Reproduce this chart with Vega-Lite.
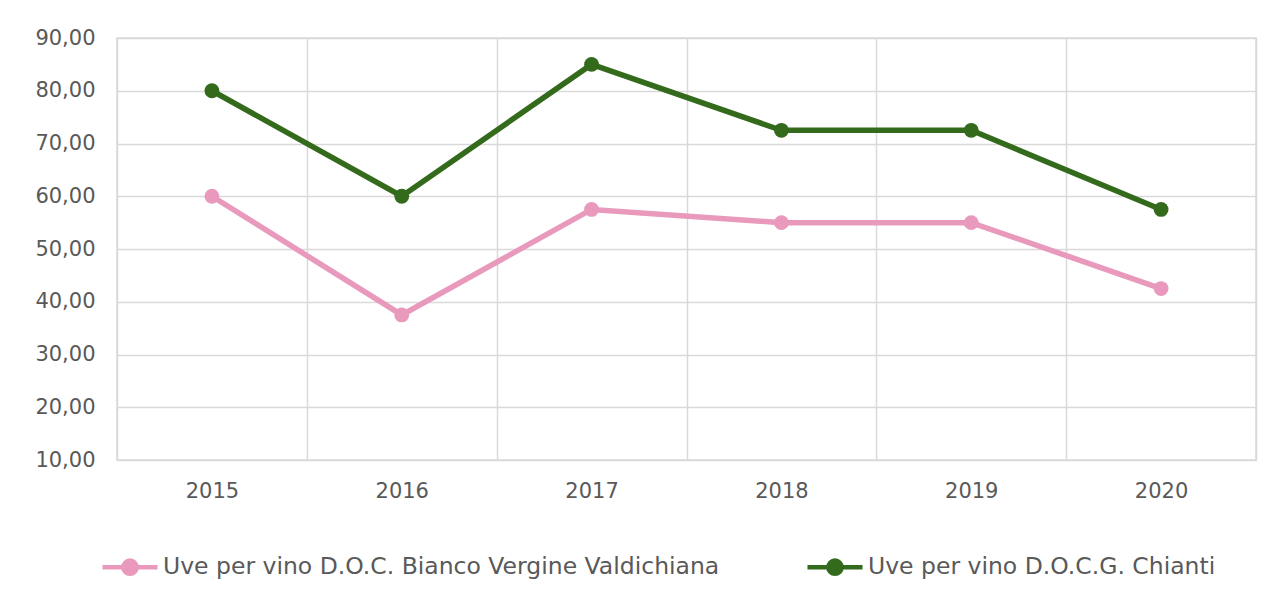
{
  "$schema": "https://vega.github.io/schema/vega-lite/v6.json",
  "width": 1139,
  "height": 422,
  "autosize": {"type": "none"},
  "padding": {"left": 117, "top": 38, "right": 18, "bottom": 145},
  "background": "white",
  "config": {
    "locale": {"number": {"decimal": ",", "thousands": ".", "grouping": [3], "currency": ["€", ""]}},
    "font": "DejaVu Sans",
    "view": {"stroke": "#D9D9D9", "strokeWidth": 1.5},
    "axis": {"gridColor": "#D9D9D9", "gridWidth": 1.5, "labelColor": "#595959", "labelFontSize": 21, "labelFont": "DejaVu Sans", "domain": false, "ticks": false, "title": null}
  },
  "data": {
    "values": [
      {"year": "2015", "series": "Uve per vino D.O.C. Bianco Vergine Valdichiana", "value": 60},
      {"year": "2016", "series": "Uve per vino D.O.C. Bianco Vergine Valdichiana", "value": 37.5},
      {"year": "2017", "series": "Uve per vino D.O.C. Bianco Vergine Valdichiana", "value": 57.5},
      {"year": "2018", "series": "Uve per vino D.O.C. Bianco Vergine Valdichiana", "value": 55},
      {"year": "2019", "series": "Uve per vino D.O.C. Bianco Vergine Valdichiana", "value": 55},
      {"year": "2020", "series": "Uve per vino D.O.C. Bianco Vergine Valdichiana", "value": 42.5},
      {"year": "2015", "series": "Uve per vino D.O.C.G. Chianti", "value": 80},
      {"year": "2016", "series": "Uve per vino D.O.C.G. Chianti", "value": 60},
      {"year": "2017", "series": "Uve per vino D.O.C.G. Chianti", "value": 85},
      {"year": "2018", "series": "Uve per vino D.O.C.G. Chianti", "value": 72.5},
      {"year": "2019", "series": "Uve per vino D.O.C.G. Chianti", "value": 72.5},
      {"year": "2020", "series": "Uve per vino D.O.C.G. Chianti", "value": 57.5}
    ]
  },
  "mark": {"type": "line", "strokeWidth": 5.5, "point": {"filled": true, "size": 220, "opacity": 1}},
  "encoding": {
    "x": {
      "field": "year", "type": "ordinal",
      "scale": {"type": "band", "paddingInner": 0, "paddingOuter": 0},
      "axis": {"labelAngle": 0, "grid": true, "tickBand": "extent", "labelPadding": 20}
    },
    "y": {
      "field": "value", "type": "quantitative",
      "scale": {"domain": [10, 90], "nice": false, "zero": false},
      "axis": {"values": [10, 20, 30, 40, 50, 60, 70, 80, 90], "format": ".2f", "labelPadding": 22, "grid": true}
    },
    "color": {
      "field": "series", "type": "nominal",
      "scale": {"domain": ["Uve per vino D.O.C. Bianco Vergine Valdichiana", "Uve per vino D.O.C.G. Chianti"], "range": ["#E899BC", "#336A1C"]},
      "legend": {
        "title": null, "orient": "none", "direction": "horizontal",
        "legendX": -17, "legendY": 499,
        "symbolType": "M-1,0H1M-0.24,0A0.24,0.24 0 1,1 0.24,0A0.24,0.24 0 1,1 -0.24,0Z",
        "symbolSize": 3025, "symbolStrokeWidth": 4.5, "symbolOpacity": 1,
        "labelFontSize": 23.5, "labelColor": "#595959", "labelOffset": 3, "labelLimit": 800,
        "columnPadding": 78
      }
    }
  }
}
